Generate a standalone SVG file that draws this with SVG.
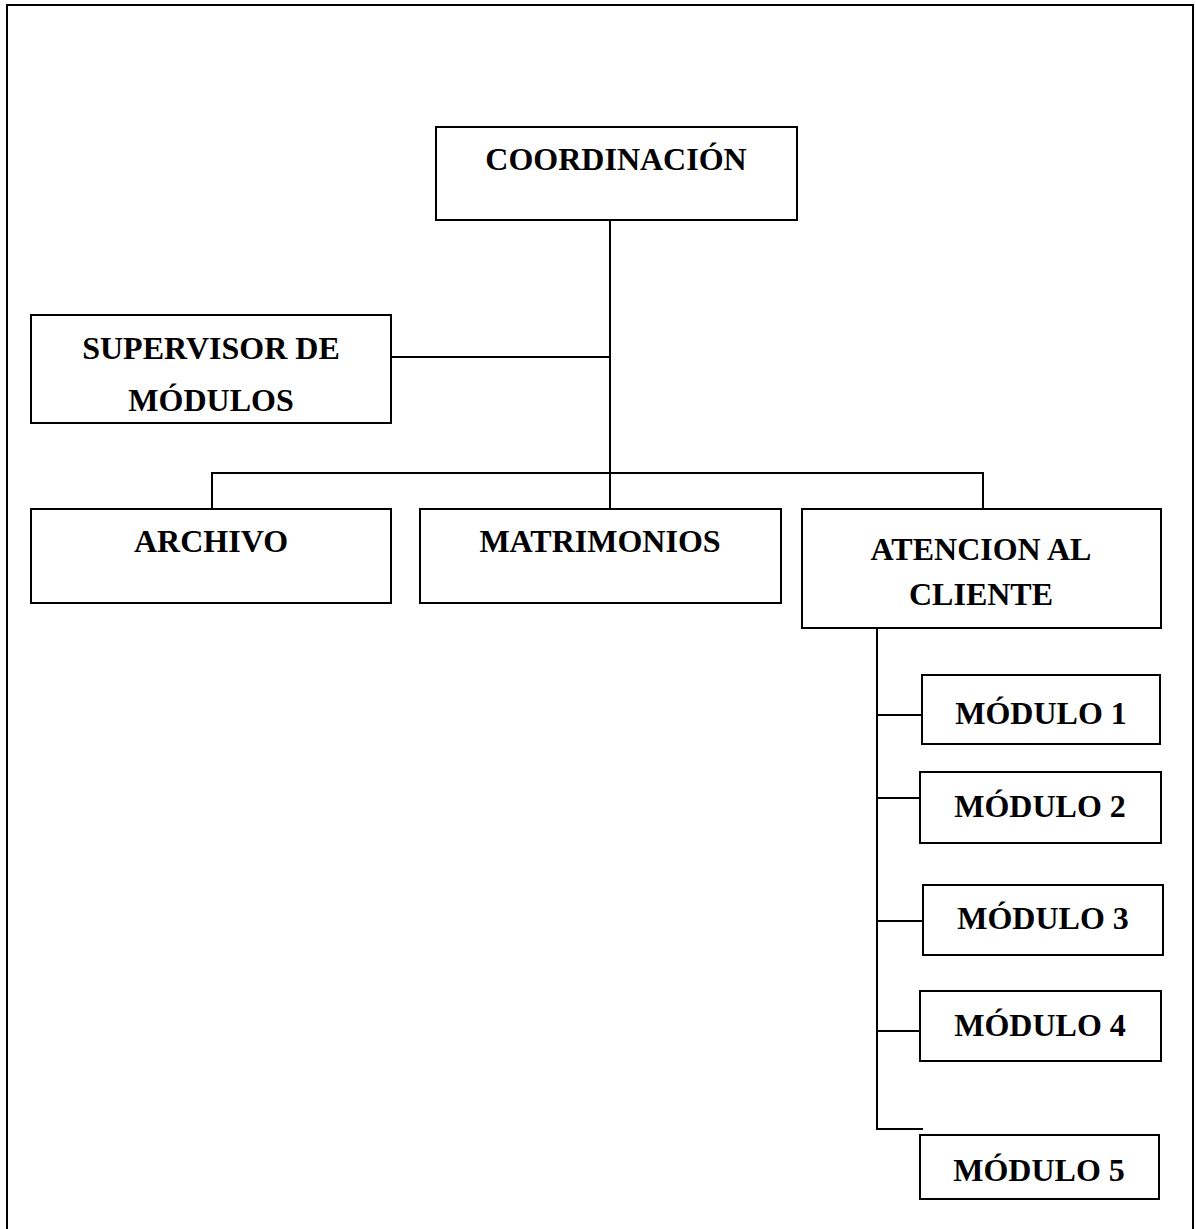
<svg xmlns="http://www.w3.org/2000/svg" width="1196" height="1229" viewBox="0 0 1196 1229">
<style>
.box{fill:#fff;stroke:#000;stroke-width:2}
.ln{fill:none;stroke:#000;stroke-width:2}
.t{font-family:"Liberation Serif","Times New Roman",serif;font-weight:bold;font-size:32px;text-anchor:middle;fill:#000}
</style>
<rect width="1196" height="1229" fill="#fff"/>
<path class="ln" d="M7,1229 V5 H1193 V1229" stroke-width="2.5"/>
<g id="connectors">
<path class="ln" d="M610,220 V509"/>
<path class="ln" d="M391,357 H610"/>
<path class="ln" d="M212,509 V473 H983 V509"/>
<path class="ln" d="M877,603 V1129 H923"/>
<path class="ln" d="M877,715 H922"/>
<path class="ln" d="M877,798 H920"/>
<path class="ln" d="M877,921 H923"/>
<path class="ln" d="M877,1031 H920"/>
</g>
<g id="coordinacion"><rect class="box" x="436" y="127" width="361" height="93"/><text class="t" x="616" y="170">COORDINACIÓN</text></g>
<g id="supervisor"><rect class="box" x="31" y="315" width="360" height="108"/><text class="t" x="211" y="359">SUPERVISOR DE</text><text class="t" x="211" y="411">MÓDULOS</text></g>
<g id="archivo"><rect class="box" x="31" y="509" width="360" height="94"/><text class="t" x="211" y="552">ARCHIVO</text></g>
<g id="matrimonios"><rect class="box" x="420" y="509" width="361" height="94"/><text class="t" x="600" y="552">MATRIMONIOS</text></g>
<g id="atencion"><rect class="box" x="802" y="509" width="359" height="119"/><text class="t" x="981" y="560">ATENCION AL</text><text class="t" x="981" y="605">CLIENTE</text></g>
<g id="modulo1"><rect class="box" x="922" y="675" width="238" height="69"/><text class="t" x="1041" y="724">MÓDULO 1</text></g>
<g id="modulo2"><rect class="box" x="920" y="772" width="241" height="71"/><text class="t" x="1040" y="817">MÓDULO 2</text></g>
<g id="modulo3"><rect class="box" x="923" y="885" width="240" height="70"/><text class="t" x="1043" y="929">MÓDULO 3</text></g>
<g id="modulo4"><rect class="box" x="920" y="991" width="241" height="70"/><text class="t" x="1040" y="1036">MÓDULO 4</text></g>
<g id="modulo5"><rect class="box" x="920" y="1135" width="239" height="64"/><text class="t" x="1039" y="1181">MÓDULO 5</text></g>
</svg>
